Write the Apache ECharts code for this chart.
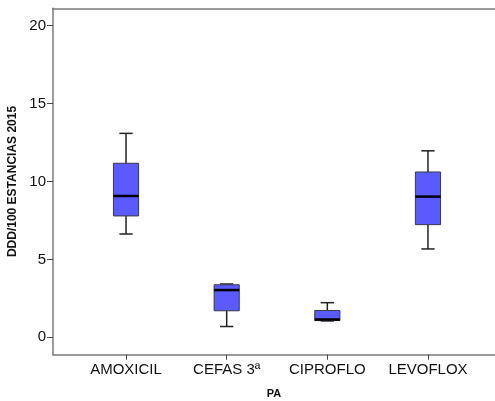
<!DOCTYPE html>
<html>
    <head>
        <meta charset="UTF-8">
        <title>DDD/100 estancias 2015</title>
        <script type="text/javascript" src="https://cdn.jsdelivr.net/npm/echarts@6/dist/echarts.min.js"></script>
        <style>
            html, body { margin: 0; padding: 0; background: #fff; }
            #container { width: 495px; height: 401px; }
        </style>
    </head>
    <body>
        <div id="container"></div>
        <script type="text/javascript">
            // datos
            var categories = ['AMOXICIL', 'CEFAS 3ª', 'CIPROFLO', 'LEVOFLOX'];
            var mins = [6.63, 0.69, 1.05, 5.67];
            var q1 = [7.79, 1.70, 1.07, 7.23];
            var medians = [9.07, 3.03, 1.14, 9.03];
            var q3 = [11.17, 3.37, 1.72, 10.61];
            var maxs = [13.09, 3.42, 2.22, 11.97];
            var yTicks = [0, 5, 10, 15, 20];

            var yMin = -1.12, yMax = 21.12;
            var font = 'Liberation Sans, Arial, sans-serif';
            var lineColor = '#7a7a7a';

            var boxData = [];
            for (var i = 0; i < categories.length; i++) {
                boxData.push([i, mins[i], q1[i], medians[i], q3[i], maxs[i]]);
            }

            function renderBox(params, api) {
                var x = api.value(0);
                var pMin = api.coord([x, api.value(1)]);
                var pQ1 = api.coord([x, api.value(2)]);
                var pMed = api.coord([x, api.value(3)]);
                var pQ3 = api.coord([x, api.value(4)]);
                var pMax = api.coord([x, api.value(5)]);
                var band = api.size([1, 0])[0];
                var hw = band * 0.125;
                var cw = band * 0.066;
                var cx = pMed[0];
                var wStyle = {stroke: '#222', lineWidth: 1.5};
                return {
                    type: 'group',
                    children: [
                        {type: 'line', shape: {x1: cx, y1: pMin[1], x2: cx, y2: pQ1[1]}, style: wStyle},
                        {type: 'line', shape: {x1: cx, y1: pQ3[1], x2: cx, y2: pMax[1]}, style: wStyle},
                        {type: 'line', shape: {x1: cx - cw, y1: pMin[1], x2: cx + cw, y2: pMin[1]}, style: wStyle},
                        {type: 'line', shape: {x1: cx - cw, y1: pMax[1], x2: cx + cw, y2: pMax[1]}, style: wStyle},
                        {type: 'rect', shape: {x: cx - hw, y: pQ3[1], width: hw * 2, height: pQ1[1] - pQ3[1]},
                            style: {fill: '#5a5aff', stroke: '#3a3a4a', lineWidth: 1}},
                        {type: 'line', shape: {x1: cx - hw, y1: pMed[1], x2: cx + hw, y2: pMed[1]},
                            style: {stroke: '#000', lineWidth: 2.5}}
                    ]
                };
            }

            var myChart = echarts.init(document.getElementById('container'));
            var option = {
                animation: false,
                backgroundColor: '#fff',
                grid: [
                    {left: 75.7, right: 16.7, top: 8.3, bottom: 46.3, outerBoundsMode: 'none', containLabel: false},
                    // marco (izquierda, abajo, arriba); el lado derecho queda fuera del lienzo
                    {left: 53, right: -10, top: 8.3, bottom: 46.3, outerBoundsMode: 'none', containLabel: false}
                ],
                xAxis: [
                    {
                        type: 'category', gridIndex: 0, data: categories, boundaryGap: true,
                        axisLine: {show: false, onZero: false},
                        axisTick: {show: true, alignWithLabel: true, length: 5, lineStyle: {color: '#444', width: 1}},
                        axisLabel: {color: '#111', fontSize: 15, fontFamily: font, margin: 8, interval: 0},
                        splitLine: {show: false}
                    },
                    {
                        type: 'value', gridIndex: 1, min: 0, max: 1, position: 'bottom',
                        name: 'PA', nameLocation: 'middle', nameGap: 34, nameTextStyle: {
                            fontSize: 11, fontWeight: 'bold', fontFamily: font, color: '#111', padding: [0, 10, 0, 0]
                        },
                        axisLine: {show: true, onZero: false, lineStyle: {color: lineColor, width: 1.5}},
                        axisTick: {show: false}, axisLabel: {show: false}, splitLine: {show: false}
                    },
                    {
                        type: 'value', gridIndex: 1, min: 0, max: 1, position: 'top',
                        axisLine: {show: true, onZero: false, lineStyle: {color: lineColor, width: 1.5}},
                        axisTick: {show: false}, axisLabel: {show: false}, splitLine: {show: false}
                    }
                ],
                yAxis: [
                    {
                        type: 'value', gridIndex: 0, min: yMin, max: yMax,
                        show: false, splitLine: {show: false}
                    },
                    {
                        type: 'value', gridIndex: 1, min: yMin, max: yMax,
                        name: 'DDD/100 ESTANCIAS 2015', nameLocation: 'middle', nameGap: 32, nameRotate: 90,
                        nameTextStyle: {fontSize: 12, fontWeight: 'bold', fontFamily: font, color: '#111'},
                        axisLine: {show: true, onZero: false, lineStyle: {color: lineColor, width: 1.5}},
                        axisTick: {show: true, length: 6, customValues: yTicks, lineStyle: {color: '#444', width: 1}},
                        axisLabel: {show: true, customValues: yTicks, fontSize: 15, fontFamily: font, color: '#111', margin: 7},
                        splitLine: {show: false}
                    }
                ],
                series: [
                    {
                        name: 'PA', type: 'custom', xAxisIndex: 0, yAxisIndex: 0,
                        renderItem: renderBox,
                        encode: {x: 0, y: [1, 2, 3, 4, 5]},
                        data: boxData
                    }
                ]
            };
            myChart.setOption(option);
        </script>
    </body>
</html>
